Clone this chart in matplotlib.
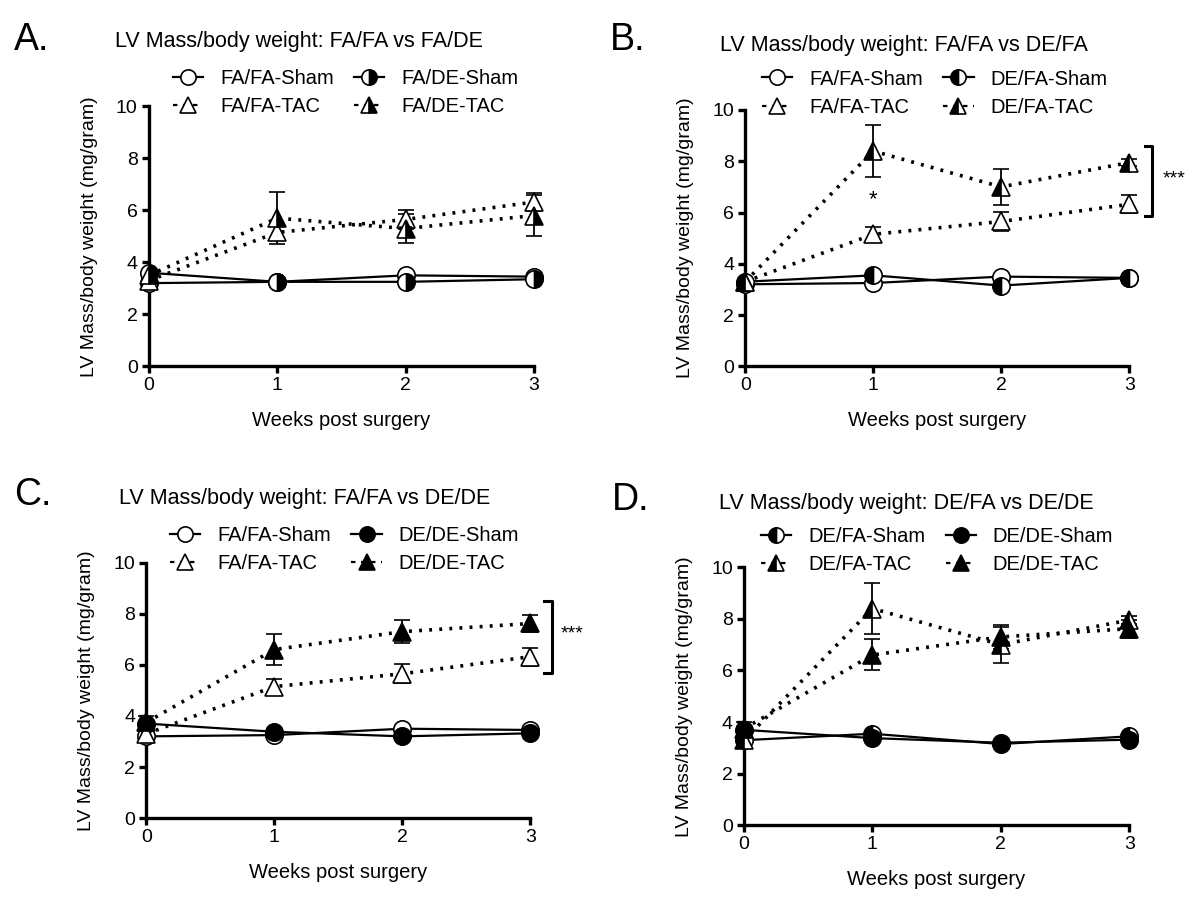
import matplotlib.pyplot as plt
from matplotlib.lines import Line2D

plt.rcParams['font.family'] = ['Liberation Sans', 'DejaVu Sans']

# Data (uger efter operation)
weeks = [0, 1, 2, 3]

fafa_sham = [3.2, 3.25, 3.5, 3.45]
fafa_sham_err = [0.1, 0.1, 0.1, 0.1]
fade_sham = [3.6, 3.25, 3.25, 3.35]
fade_sham_err = [0.1, 0.1, 0.1, 0.1]
defa_sham = [3.3, 3.55, 3.15, 3.45]
defa_sham_err = [0.1, 0.1, 0.1, 0.1]
dede_sham = [3.7, 3.38, 3.2, 3.32]
dede_sham_err = [0.1, 0.1, 0.1, 0.1]

fafa_tac = [3.3, 5.15, 5.65, 6.32]
fafa_tac_err = [0.1, 0.3, 0.38, 0.35]
fade_tac = [3.5, 5.7, 5.3, 5.8]
fade_tac_err = [0.15, 1.0, 0.55, 0.8]
defa_tac = [3.3, 8.4, 7.0, 7.95]
defa_tac_err = [0.1, 1.0, 0.7, 0.15]
dede_tac = [3.75, 6.6, 7.3, 7.62]
dede_tac_err = [0.25, 0.6, 0.45, 0.35]

ylabel = "LV Mass/body weight (mg/gram)"
xlabel = "Weeks post surgery"


def style(fill, tac):
    kw = dict(marker='^' if tac else 'o', ms=12.5, mec='black', mew=1.2,
              color='black')
    if fill == 'none':
        kw.update(mfc='white', fillstyle='full')
    elif fill == 'full':
        kw.update(mfc='black', fillstyle='full')
    else:
        kw.update(mfc='black', markerfacecoloralt='white', fillstyle=fill)
    return kw


def draw(ax, y, err, fill, tac):
    kw = style(fill, tac)
    ls = (0, (0.8, 2.0)) if tac else '-'
    lw = 2.6 if tac else 1.6
    ax.errorbar(weeks, y, yerr=err, linestyle=ls, lw=lw, ecolor='black',
                elinewidth=1.3, capsize=6, capthick=1.3, zorder=3, **kw)


def handle(fill, tac):
    kw = style(fill, tac)
    kw['ms'] = 11
    return Line2D([], [], linestyle=(0, (2, 2.5)) if tac else '-', lw=1.6, **kw)


def panel(rect, letter, letter_xy, title, title_xy, groups, leg_anchor):
    ax = fig.add_axes(rect)
    for navn, y, err, fill, tac in groups:
        draw(ax, y, err, fill, tac)
    ax.set_xlim(0, 3)
    ax.set_ylim(0, 10)
    ax.set_xticks(weeks)
    ax.set_yticks([0, 2, 4, 6, 8, 10])
    ax.spines['top'].set_visible(False)
    ax.spines['right'].set_visible(False)
    ax.spines['left'].set_linewidth(2.4)
    ax.spines['bottom'].set_linewidth(2.4)
    ax.tick_params(width=2.4, length=5, labelsize=14, pad=3)
    ax.set_ylabel(ylabel, fontsize=14, labelpad=13)
    ax.set_xlabel(xlabel, fontsize=14.5, labelpad=12)
    for c in ax.get_children():
        c.set_clip_on(False)
    order = [0, 2, 1, 3]
    hs = [handle(groups[i][3], groups[i][4]) for i in order]
    labs = [groups[i][0] for i in order]
    ax.legend(hs, labs, ncol=2, loc='center left', bbox_to_anchor=leg_anchor,
              frameon=False, fontsize=14.5, handlelength=1.5, handletextpad=0.85,
              columnspacing=1.0, labelspacing=0.45, borderaxespad=0, borderpad=0)
    fig.text(letter_xy[0], letter_xy[1], letter, fontsize=27, va='center', ha='left')
    fig.text(title_xy[0], title_xy[1], title, fontsize=15.5, va='center', ha='center')
    return ax


fig = plt.figure(figsize=(12, 9.09), dpi=100)

ax_a = panel([0.124, 0.597, 0.321, 0.286], 'A.', (0.012, 0.956),
             'LV Mass/body weight: FA/FA vs FA/DE', (0.249, 0.954),
             [('FA/FA-Sham', fafa_sham, fafa_sham_err, 'none', False),
              ('FA/DE-Sham', fade_sham, fade_sham_err, 'right', False),
              ('FA/FA-TAC', fafa_tac, fafa_tac_err, 'none', True),
              ('FA/DE-TAC', fade_tac, fade_tac_err, 'right', True)],
             (0.062, 1.052))

ax_b = panel([0.621, 0.597, 0.320, 0.282], 'B.', (0.508, 0.956),
             'LV Mass/body weight: FA/FA vs DE/FA', (0.753, 0.950),
             [('FA/FA-Sham', fafa_sham, fafa_sham_err, 'none', False),
              ('DE/FA-Sham', defa_sham, defa_sham_err, 'left', False),
              ('FA/FA-TAC', fafa_tac, fafa_tac_err, 'none', True),
              ('DE/FA-TAC', defa_tac, defa_tac_err, 'left', True)],
             (0.044, 1.066))

ax_c = panel([0.122, 0.100, 0.320, 0.281], 'C.', (0.012, 0.455),
             'LV Mass/body weight: FA/FA vs DE/DE', (0.254, 0.452),
             [('FA/FA-Sham', fafa_sham, fafa_sham_err, 'none', False),
              ('DE/DE-Sham', dede_sham, dede_sham_err, 'full', False),
              ('FA/FA-TAC', fafa_tac, fafa_tac_err, 'none', True),
              ('DE/DE-TAC', dede_tac, dede_tac_err, 'full', True)],
             (0.062, 1.052))

ax_d = panel([0.620, 0.092, 0.321, 0.284], 'D.', (0.510, 0.450),
             'LV Mass/body weight: DE/FA vs DE/DE', (0.755, 0.446),
             [('DE/FA-Sham', defa_sham, defa_sham_err, 'left', False),
              ('DE/DE-Sham', dede_sham, dede_sham_err, 'full', False),
              ('DE/FA-TAC', defa_tac, defa_tac_err, 'left', True),
              ('DE/DE-TAC', dede_tac, dede_tac_err, 'full', True)],
             (0.044, 1.066))

# Signifikans
ax_b.plot([3.12, 3.18, 3.18, 3.12], [5.86, 5.86, 8.6, 8.6], color='black', lw=2.2, clip_on=False)
ax_b.text(3.26, 7.3, '***', fontsize=14, ha='left', va='center')
ax_b.text(1.0, 6.5, '*', fontsize=16, ha='center', va='center')

ax_c.plot([3.11, 3.17, 3.17, 3.11], [5.7, 5.7, 8.5, 8.5], color='black', lw=2.2, clip_on=False)
ax_c.text(3.24, 7.2, '***', fontsize=14, ha='left', va='center')

plt.savefig("out.png", dpi=100)
